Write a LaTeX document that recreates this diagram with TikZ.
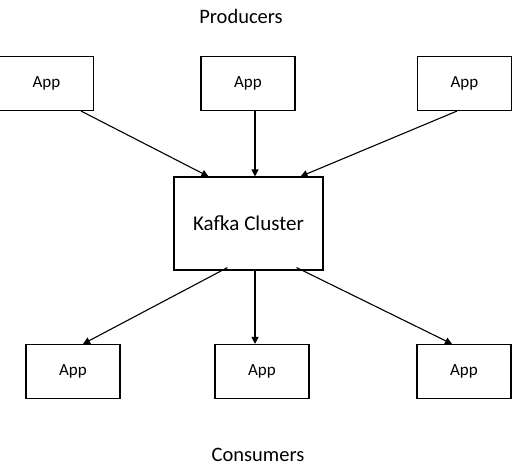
\documentclass[tikz,border=0pt]{standalone}
\usepackage{fontspec}
\setmainfont{Carlito}
\usetikzlibrary{arrows.meta,positioning}
\begin{document}
\begin{tikzpicture}[x=1pt,y=1pt,
  appbox/.style={draw=black, line width=1.1pt, minimum width=94pt, minimum height=54pt, inner sep=0pt, font=\fontsize{17}{20}\selectfont},
  kbox/.style={draw=black, line width=1.1pt, minimum width=149pt, minimum height=93pt, inner sep=0pt, font=\fontsize{21}{25}\selectfont},
  conn/.style={line width=1.1pt, -{Triangle[length=7pt,width=7pt]}},
  lbl/.style={font=\fontsize{20.5}{24}\selectfont, inner sep=0pt}]
\useasboundingbox (0,0) rectangle (519,-467);
\node[lbl] (prod) at (241,-16) {Producers};
\node[lbl] (cons) at (258,-455) {Consumers};
\node[appbox] (tl) at (46.5,-83.5) {App};
\node[appbox] (tm) at (248,-83.5) {App};
\node[appbox] (tr) at (464.5,-83.5) {App};
\node[kbox] (k) at (248.5,-223.5) {Kafka Cluster};
\node[appbox] (bl) at (73,-371.5) {App};
\node[appbox] (bm) at (262,-371.5) {App};
\node[appbox] (br) at (464,-371.5) {App};
\draw[conn] ([xshift=-13pt]tl.south east) -- ([xshift=35pt]k.north west);
\draw[conn] ([xshift=7pt]tm.south) -- ([xshift=6.5pt]k.north);
\draw[conn] ([xshift=-7.5pt]tr.south) -- ([xshift=-23pt]k.north east);
\draw[conn] ([xshift=54pt,yshift=3pt]k.south west) -- ([xshift=10pt]bl.north);
\draw[conn] ([xshift=6.5pt]k.south) -- ([xshift=-7pt]bm.north);
\draw[conn] ([xshift=-27pt,yshift=3pt]k.south east) -- ([xshift=-12pt]br.north);
\end{tikzpicture}
\end{document}
